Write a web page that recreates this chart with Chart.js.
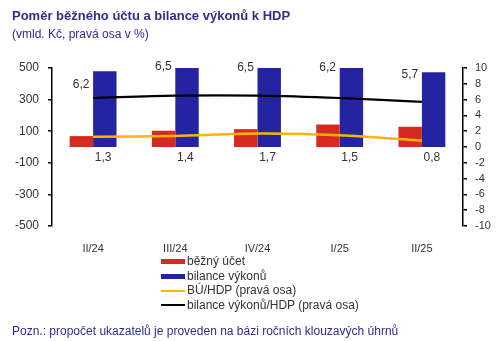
<!DOCTYPE html>
<html>
<head>
    <meta charset="utf-8">
    <title>Poměr běžného účtu a bilance výkonů k HDP</title>
    <script src="https://cdn.jsdelivr.net/npm/chart.js@4.4.1/dist/chart.umd.min.js"></script>
    <style>
        body { margin: 0; background: #fff; font-family: Arial, "Liberation Sans", sans-serif; }
        #wrap { position: relative; width: 500px; height: 341px; overflow: hidden; }
        #wrap canvas { position: absolute; left: 0; top: 0; }
        .title { position: absolute; left: 12px; top: 8px; font-size: 13px; font-weight: bold; color: #2e2e8c; white-space: nowrap; }
        .sub { position: absolute; left: 12px; top: 27px; font-size: 12px; color: #2e2e8c; white-space: nowrap; }
        .note { position: absolute; left: 12px; top: 324px; font-size: 12px; color: #2e2e8c; white-space: nowrap; }
        #legend { position: absolute; left: 161px; top: 254px; font-size: 12px; color: #333; }
        #legend div { height: 14.5px; line-height: 14.5px; white-space: nowrap; }
        #legend span.mk { display: inline-block; width: 24px; vertical-align: middle; margin-right: 2px; }
    </style>
</head>
<body>
<div id="wrap">
    <canvas id="myChart" width="500" height="341"></canvas>
    <div class="title">Poměr běžného účtu a bilance výkonů k HDP</div>
    <div class="sub">(vmld. Kč, pravá osa v %)</div>
    <div id="legend"></div>
    <div class="note">Pozn.: propočet ukazatelů je proveden na bázi ročních klouzavých úhrnů</div>
</div>

<script>
    var LABELS = ["II/24", "III/24", "IV/24", "I/25", "II/25"];
    var BEZNY_UCET = [69, 103, 113, 142, 128];          // mld. Kč
    var BILANCE_VYKONU = [479, 500, 500, 500, 473];     // mld. Kč
    var BU_HDP = [1.3, 1.4, 1.7, 1.5, 0.8];             // %
    var BV_HDP = [6.2, 6.5, 6.5, 6.2, 5.7];             // %

    var RED = "#d42a20";
    var BLUE = "#2424a2";
    var YELLOW = "#ffb400";
    var BLACK = "#000000";

    var czNum = function(v) {
        return v.toFixed(1).replace(".", ",");
    };

    // popisky hodnot u obou čar
    var lineLabels = {
        id: "lineLabels",
        afterDatasetsDraw: function(chart) {
            var ctx = chart.ctx;
            var y2 = chart.scales.y2;
            var blackDy = [-13, -29, -28, -30, -27];
            ctx.save();
            ctx.font = "12px Arial, 'Liberation Sans', sans-serif";
            ctx.fillStyle = "#333";
            ctx.textAlign = "center";
            ctx.textBaseline = "middle";
            chart.getDatasetMeta(3).data.forEach(function(pt, i) {
                ctx.fillText(czNum(BV_HDP[i]), pt.x - 12, pt.y + blackDy[i]);
            });
            chart.getDatasetMeta(2).data.forEach(function(pt, i) {
                ctx.fillText(czNum(BU_HDP[i]), pt.x + 10, y2.getPixelForValue(0) + 11);
            });
            ctx.restore();
        }
    };

    var ctx = document.getElementById("myChart").getContext("2d");
    var myChart = new Chart(ctx, {
        type: "bar",
        data: {
            labels: LABELS,
            datasets: [{
                label: "běžný účet",
                data: BEZNY_UCET,
                backgroundColor: RED,
                yAxisID: "y",
                order: 2
            }, {
                label: "bilance výkonů",
                data: BILANCE_VYKONU,
                backgroundColor: BLUE,
                yAxisID: "y",
                order: 2
            }, {
                type: "line",
                label: "BÚ/HDP (pravá osa)",
                data: BU_HDP,
                borderColor: YELLOW,
                borderWidth: 2.5,
                pointRadius: 0,
                tension: 0.3,
                yAxisID: "y2",
                order: 1
            }, {
                type: "line",
                label: "bilance výkonů/HDP (pravá osa)",
                data: BV_HDP,
                borderColor: BLACK,
                borderWidth: 2.2,
                pointRadius: 0,
                tension: 0.3,
                yAxisID: "y2",
                order: 0
            }]
        },
        options: {
            responsive: false,
            animation: false,
            layout: { padding: { top: 68, left: 0, right: 0, bottom: 0 } },
            datasets: { bar: { categoryPercentage: 0.57, barPercentage: 1.0 } },
            plugins: { legend: { display: false }, tooltip: { enabled: false } },
            scales: {
                x: {
                    grid: { display: false },
                    border: { display: false },
                    ticks: { color: "#333", font: { size: 11, family: "Arial, 'Liberation Sans'" }, padding: 8 },
                    afterFit: function(s) { s.height = 115; }
                },
                y: {
                    position: "left",
                    min: -500,
                    max: 500,
                    ticks: { stepSize: 200, autoSkip: false, color: "#333", font: { size: 12, family: "Arial, 'Liberation Sans'" }, padding: 9 },
                    grid: {
                        color: function(c) { return c.tick && c.tick.value === 0 ? "#000" : "rgba(0,0,0,0)"; },
                        lineWidth: 1.5,
                        tickColor: "#000",
                        tickLength: 4
                    },
                    border: { color: "#000", width: 1.5 },
                    afterFit: function(s) { s.width = 52; }
                },
                y2: {
                    position: "right",
                    min: -10,
                    max: 10,
                    ticks: { stepSize: 2, autoSkip: false, color: "#333", font: { size: 11, family: "Arial, 'Liberation Sans'" }, padding: 8 },
                    grid: { drawOnChartArea: false, tickColor: "#000", tickLength: 4, lineWidth: 1.5 },
                    border: { color: "#000", width: 1.5 },
                    afterFit: function(s) { s.width = 37; }
                }
            }
        },
        plugins: [lineLabels]
    });

    // legenda pod grafem
    var legend = document.getElementById("legend");
    myChart.data.datasets.forEach(function(ds) {
        var row = document.createElement("div");
        var mk = document.createElement("span");
        mk.className = "mk";
        var isLine = ds.type === "line";
        mk.style.height = isLine ? "2px" : "5px";
        mk.style.background = isLine ? ds.borderColor : ds.backgroundColor;
        row.appendChild(mk);
        row.appendChild(document.createTextNode(ds.label));
        legend.appendChild(row);
    });
</script>
</body>
</html>
